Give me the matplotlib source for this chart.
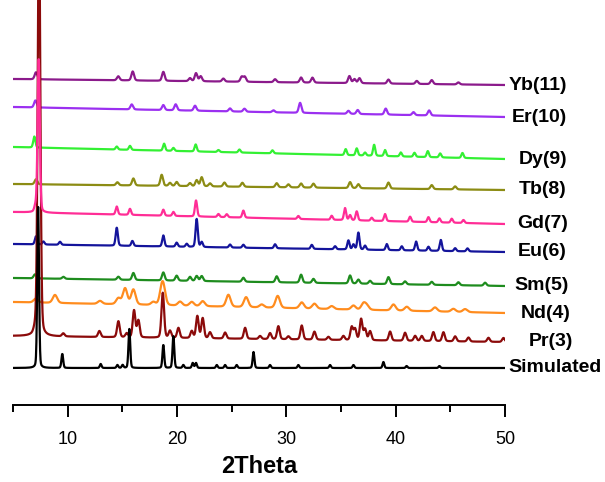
import numpy as np
import matplotlib
matplotlib.use("Agg")
import matplotlib.pyplot as plt

plt.rcParams['font.family'] = ['Liberation Sans', 'DejaVu Sans']

# series names, top to bottom
names = ["Yb(11)", "Er(10)", "Dy(9)", "Tb(8)", "Gd(7)", "Eu(6)", "Sm(5)", "Nd(4)", "Pr(3)", "Simulated"]
colors = ["#8B1A8B", "#9B30F0", "#33F033", "#8C8C14", "#FF2D96", "#14149B", "#1E8C1E", "#FF8C1E", "#8B0A0A", "#000000"]

# baseline offsets (left end at 5 deg, right end at 50 deg)
base_left = [326, 298, 258, 221, 193, 161, 127, 103, 69, 37]
base_right = [320, 288, 246, 215, 181, 153, 119, 92, 63, 37]

# peak positions (2theta) and heights
yb_pos = [7.1, 14.63, 15.95, 18.75, 21.19, 21.74, 22.17, 24.24, 25.92, 26.2,
          28.97, 31.35, 32.39, 35.77, 36.23, 36.69, 39.34, 41.93, 43.3, 45.74]
yb_hgt = [7, 4, 9, 9, 3, 8, 5, 3, 5, 5, 3, 5, 5, 7, 4, 5, 4, 3, 4, 2]

er_pos = [7.05, 15.86, 18.75, 19.88, 21.65, 24.85, 26.17,
          28.82, 31.26, 35.68, 36.53, 39.09, 41.63, 43.06]
er_hgt = [7, 5, 5, 6, 5, 3, 3, 2, 10, 3, 4, 6, 3, 5]

dy_pos = [6.95, 14.49, 15.7, 18.82, 19.67, 21.71, 23.79, 25.71,
          28.73, 35.43, 36.44, 37.2, 38.03, 39.03, 40.47, 41.72, 42.94, 44.07, 46.11]
dy_hgt = [11, 3, 4, 7, 3, 7, 2, 3, 3, 6, 7, 3, 11, 6, 4, 4, 6, 4, 5]

tb_pos = [7.1, 14.55, 16.01, 18.6, 19.36, 19.97, 21.19, 21.8, 22.26, 23.02, 24.34, 25.98,
          29.12, 30.19, 31.35, 32.48, 35.83, 36.59, 39.34, 43.3, 45.44]
tb_hgt = [5, 3, 7, 11, 3, 4, 3, 6, 9, 3, 4, 4, 4, 3, 4, 4, 6, 4, 6, 4, 3]

gd_pos = [7.35, 7.05, 14.49, 15.7, 18.75, 19.67, 21.74, 23.79, 24.55, 26.07,
          31.1, 34.15, 35.37, 35.83, 36.44, 37.81, 39.03, 41.32, 43.0, 44.0, 45.13, 46.2]
gd_hgt = [154, 5, 8, 6, 6, 4, 16, 3, 3, 7, 3, 4, 12, 5, 9, 3, 7, 5, 5, 4, 4, 3]

eu_pos = [7.1, 7.78, 9.3, 14.49, 15.92, 18.75, 19.97, 20.89, 21.8, 22.26, 24.85, 26.07,
          28.97, 32.33, 34.46, 35.68, 36.14, 36.59, 37.2, 39.19, 40.56, 41.87, 43.0, 44.13, 45.44, 46.57]
eu_hgt = [8, 3, 3, 18, 5, 11, 4, 3, 28, 5, 3, 3,
          4, 4, 3, 9, 5, 17, 4, 6, 4, 9, 4, 11, 3, 3]

sm_pos = [7.01, 9.61, 14.64, 16.01, 18.75, 19.97, 21.19, 21.8, 22.26, 26.07,
          29.12, 31.35, 32.48, 35.83, 36.59, 37.66, 39.34, 40.86, 43.3, 45.74, 48.18]
sm_hgt = [4, 2, 3, 7, 8, 5, 4, 5, 5, 4, 6, 8, 4, 8, 4, 3, 7, 3, 3, 3, 3]

nd_pos = [7.1, 8.84, 12.96, 14.64, 15.25, 16.01, 17.84, 18.6, 18.75, 20.28, 21.35, 22.35, 24.7, 26.32,
          27.75, 29.21, 31.41, 32.57, 34.15, 36.14, 37.05, 37.36, 39.8, 41.02, 43.6, 45.28, 46.35]
nd_hgt = [4, 8, 3, 6, 16, 15, 3, 12, 14, 4, 4, 5, 12, 10,
          3, 12, 6, 5, 3, 4, 6, 4, 6, 4, 4, 3, 3]

pr_pos = [7.38, 7.0, 9.6, 12.9, 14.64, 15.4, 16.07, 16.47, 18.7, 19.36, 20.13, 21.35, 21.86, 22.35,
          23.02, 24.4, 26.23, 27.6, 28.51, 29.27, 30.19, 31.41, 32.57, 33.85, 35.22, 35.98, 36.29,
          36.84, 37.2, 37.66, 39.49, 40.86, 41.78, 42.39, 43.45, 44.37, 45.44, 46.66, 48.49, 49.86]
pr_hgt = [420, 4, 3, 6, 16, 4, 27, 17, 45, 7, 10, 7, 22, 20,
          6, 6, 11, 3, 6, 13, 3, 14, 8, 3, 4, 13, 11,
          21, 11, 9, 9, 8, 5, 5, 9, 9, 5, 4, 4, 4]

sim_pos = [7.3, 9.51, 13.02, 14.55, 15.03, 15.64, 18.75, 19.67, 20.58, 21.44, 21.74, 23.64, 24.4,
           25.46, 27.0, 28.51, 31.1, 34.0, 36.14, 38.88, 41.0, 44.0]
sim_hgt = [161, 14, 4, 3, 3, 39, 23, 32, 3, 5, 5, 3, 3, 3, 16, 3, 3, 3, 3, 6, 2, 2]

peak_pos = [yb_pos, er_pos, dy_pos, tb_pos, gd_pos, eu_pos, sm_pos, nd_pos, pr_pos, sim_pos]
peak_hgt = [yb_hgt, er_hgt, dy_hgt, tb_hgt, gd_hgt, eu_hgt, sm_hgt, nd_hgt, pr_hgt, sim_hgt]
peak_w = [0.12, 0.12, 0.1, 0.12, 0.1, 0.1, 0.12, 0.2, 0.12, 0.08]

# where the right-hand labels start
label_x = [50.29, 50.65, 51.29, 51.29, 51.11, 51.2, 50.84, 51.48, 52.2, 50.29]

x = np.arange(5, 50.001, 0.02)


def pattern(pos, hgt, w, b0, b1):
    # pseudo-voigt peaks on a sloping baseline
    y = b0 + (b1 - b0) * (x - 5) / 45.0
    for p, h in zip(pos, hgt):
        g = np.exp(-0.5 * ((x - p) / w) ** 2)
        l = 1.0 / (1.0 + ((x - p) / (1.2 * w)) ** 2)
        y = y + h * (0.8 * g + 0.2 * l)
    return y


fig = plt.figure(figsize=(6.05, 4.82), dpi=100)
ax = fig.add_axes([13 / 605, 77 / 482, 492 / 605, 405 / 482])

for i in range(len(names)):
    y = pattern(peak_pos[i], peak_hgt[i], peak_w[i], base_left[i], base_right[i])
    z = 2
    if names[i] == "Gd(7)":
        z = 3
    if names[i] == "Simulated":
        z = 4
    ax.plot(x, y, color=colors[i], lw=1.6, zorder=z)
    ax.text(label_x[i], base_right[i], names[i], fontsize=14, fontweight='bold',
            va='center', ha='left', clip_on=False)

ax.set_xlim(5, 50)
ax.set_ylim(0, 405)
for s in ["top", "left", "right"]:
    ax.spines[s].set_visible(False)
ax.spines["bottom"].set_linewidth(1.4)
ax.set_yticks([])
ax.set_xticks([10, 20, 30, 40, 50])
ax.set_xticks([5, 15, 25, 35, 45], minor=True)
ax.tick_params(axis='x', which='major', direction='out', length=8.5, width=1.4, labelsize=13, pad=10)
ax.tick_params(axis='x', which='minor', direction='out', length=5, width=1.4)
ax.set_xlabel("2Theta", fontsize=17, fontweight='bold', labelpad=5)

fig.savefig("out.png", dpi=100)
